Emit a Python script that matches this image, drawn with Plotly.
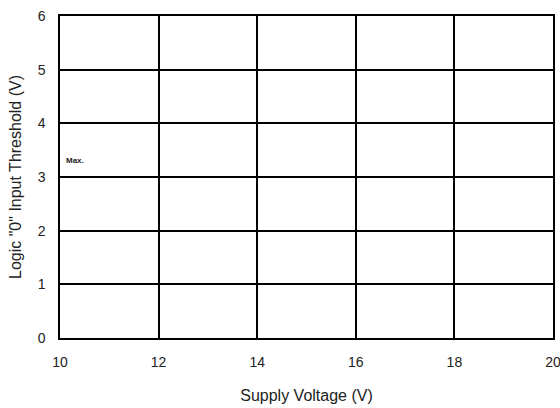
import plotly.graph_objects as go

supply_voltage = [10, 12, 14, 16, 18, 20]
threshold_max = [3, 3, 3, 3, 3, 3]
x_ticks = [10, 12, 14, 16, 18, 20]
y_ticks = [0, 1, 2, 3, 4, 5, 6]

FONT = "Liberation Sans, Arial"

fig = go.Figure()
fig.add_trace(go.Scatter(x=supply_voltage, y=threshold_max, mode="lines",
                         line=dict(color="black", width=1.5), showlegend=False,
                         hoverinfo="skip"))
fig.add_annotation(x=10.08, y=3.3, text="<b>Max.</b>", showarrow=False,
                   xanchor="left", yanchor="middle",
                   font=dict(family=FONT, size=8, color="#222"))

axis_common = dict(showgrid=True, gridcolor="black", gridwidth=1.5,
                   showline=True, linecolor="black", linewidth=1.5, mirror=True,
                   zeroline=False, ticks="outside", tickcolor="rgba(0,0,0,0)",
                   automargin=False, ticklabeloverflow="allow",
                   tickfont=dict(family=FONT, size=14, color="#222"),
                   title_font=dict(family=FONT, size=16, color="#222"))
fig.update_xaxes(range=[10, 20], tickvals=x_ticks, ticktext=[str(v) for v in x_ticks],
                 ticklen=10, title_text="Supply Voltage (V)", title_standoff=21, **axis_common)
fig.update_yaxes(range=[0, 6], tickvals=y_ticks, ticktext=[str(v) for v in y_ticks],
                 ticklen=10, title_text='Logic "0" Input Threshold (V)', title_standoff=12, **axis_common)

fig.update_layout(width=560, height=408, margin=dict(l=60, r=7, t=16, b=70),
                  plot_bgcolor="white", paper_bgcolor="white")
fig.write_html("out.html", config={"displayModeBar": False},
               post_script="document.body.style.margin='0';document.body.style.overflow='hidden';")
